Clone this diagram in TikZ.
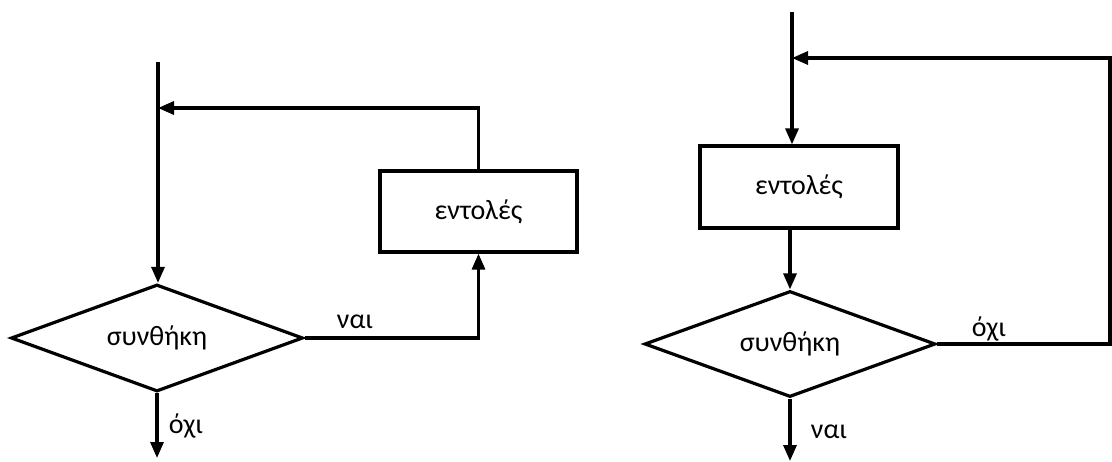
\documentclass[tikz,border=0pt]{standalone}
\usepackage{fontspec}
\setmainfont{Carlito}
\usetikzlibrary{shapes.geometric,arrows.meta}
\begin{document}
\begin{tikzpicture}[x=1pt,y=-1pt,
  line width=3.2pt,
  every node/.style={font=\fontsize{28}{32}\selectfont},
  arr/.style={-{Triangle[length=16pt,width=13pt]}},
  decision/.style={draw,diamond,inner sep=0pt,aspect=2.73,minimum width=292pt,minimum height=107pt},
  cmdbox/.style={draw,rectangle,inner sep=0pt,minimum width=197pt,minimum height=81pt},
  lbl/.style={inner sep=0pt}]
\useasboundingbox (0,0) rectangle (1112,461);
% left diagram
\coordinate (topL) at (158,62);
\node[decision] (dL) at (157,338) {συνθήκη};
\node[cmdbox] (bL) at (478.5,211.5) {εντολές};
\coordinate (jL) at (158,108);
\coordinate (endL) at (157,458);
\draw[arr] (topL) -- (topL |- dL.north);
\draw[arr] (dL.east) -| (bL.south);
\draw[arr] (bL.north) |- (jL);
\draw[arr] (dL.south) -- (endL);
\node[lbl] (yesL) at (355,322) {ναι};
\node[lbl] (noL) at (186,426) {όχι};
% right diagram
\coordinate (topR) at (792,12);
\node[cmdbox,minimum width=198pt,minimum height=82pt] (bR) at (799,187) {εντολές};
\node[decision,minimum width=291pt,minimum height=106pt] (dR) at (790,344) {συνθήκη};
\coordinate (cR) at (1110,344);
\coordinate (jR) at (792,58);
\coordinate (endR) at (790,461);
\draw[arr] (topR) -- (topR |- bR.north);
\draw[arr] (dR.north |- bR.south) -- (dR.north);
\draw[arr] (dR.east) -- (cR) |- (jR);
\draw[arr] (dR.south) -- (endR);
\node[lbl] (noR) at (989,329) {όχι};
\node[lbl] (yesR) at (829,432) {ναι};
\end{tikzpicture}
\end{document}
